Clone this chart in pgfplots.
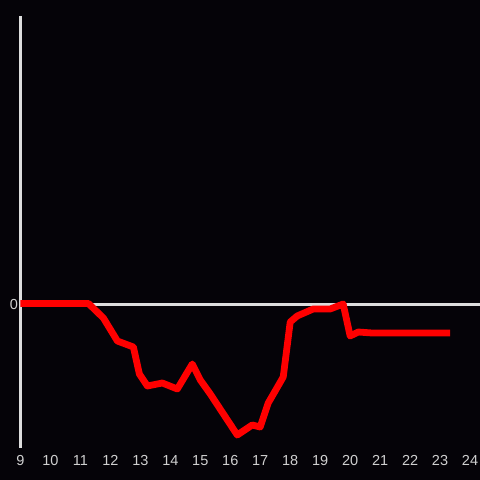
\documentclass[border=0pt]{standalone}
\usepackage{pgfplots}
\pgfplotsset{compat=1.18}
\usepackage{fontspec}
\setmainfont{Liberation Sans}
\definecolor{bg}{HTML}{050308}
\definecolor{axc}{HTML}{DDDDDD}
\definecolor{tkc}{HTML}{D0D0D0}
\begin{document}
\begin{tikzpicture}[x=1pt,y=1pt]
\fill[bg] (0,0) rectangle (480,480);
\useasboundingbox (0,0) rectangle (480,480);
\begin{axis}[
  at={(20.5pt,32pt)}, anchor=south west,
  scale only axis, width=459.5pt, height=432pt,
  xmin=9, xmax=24.333, ymin=-145, ymax=287,
  axis y line*=left, axis x line*=bottom,
  x axis line style={draw=none},
  y axis line style={draw=axc, line width=3pt, -},
  xtick={9,10,...,24}, ytick={0},
  major tick length=0pt,
  tick label style={font=\fontsize{14.5}{16}\selectfont, text=tkc},
  /pgf/number format/assume math mode=true,
  xticklabel style={yshift=-3.5pt},
  yticklabel style={xshift=1pt, yshift=-1.5pt},
  clip=false,
]
\addplot[draw=axc, line width=3pt, forget plot] coordinates {(9,-1.5) (24.333,-1.5)};
\addplot[draw=red, line width=6.8pt, line join=round, mark=none] coordinates {
(9,-0.5) (11.267,-0.5) (11.767,-15) (12.233,-38) (12.767,-44) (12.967,-71)
(13.233,-83) (13.733,-80) (14.233,-86) (14.733,-61) (15.0,-77) (15.333,-91)
(16.233,-132) (16.733,-122) (17.0,-124) (17.267,-100) (17.767,-74)
(18.0,-19) (18.233,-13) (18.767,-6) (19.333,-6) (19.767,-1) (20.0,-33)
(20.267,-29) (20.733,-30) (23.333,-30)
};
\end{axis}
\end{tikzpicture}
\end{document}
